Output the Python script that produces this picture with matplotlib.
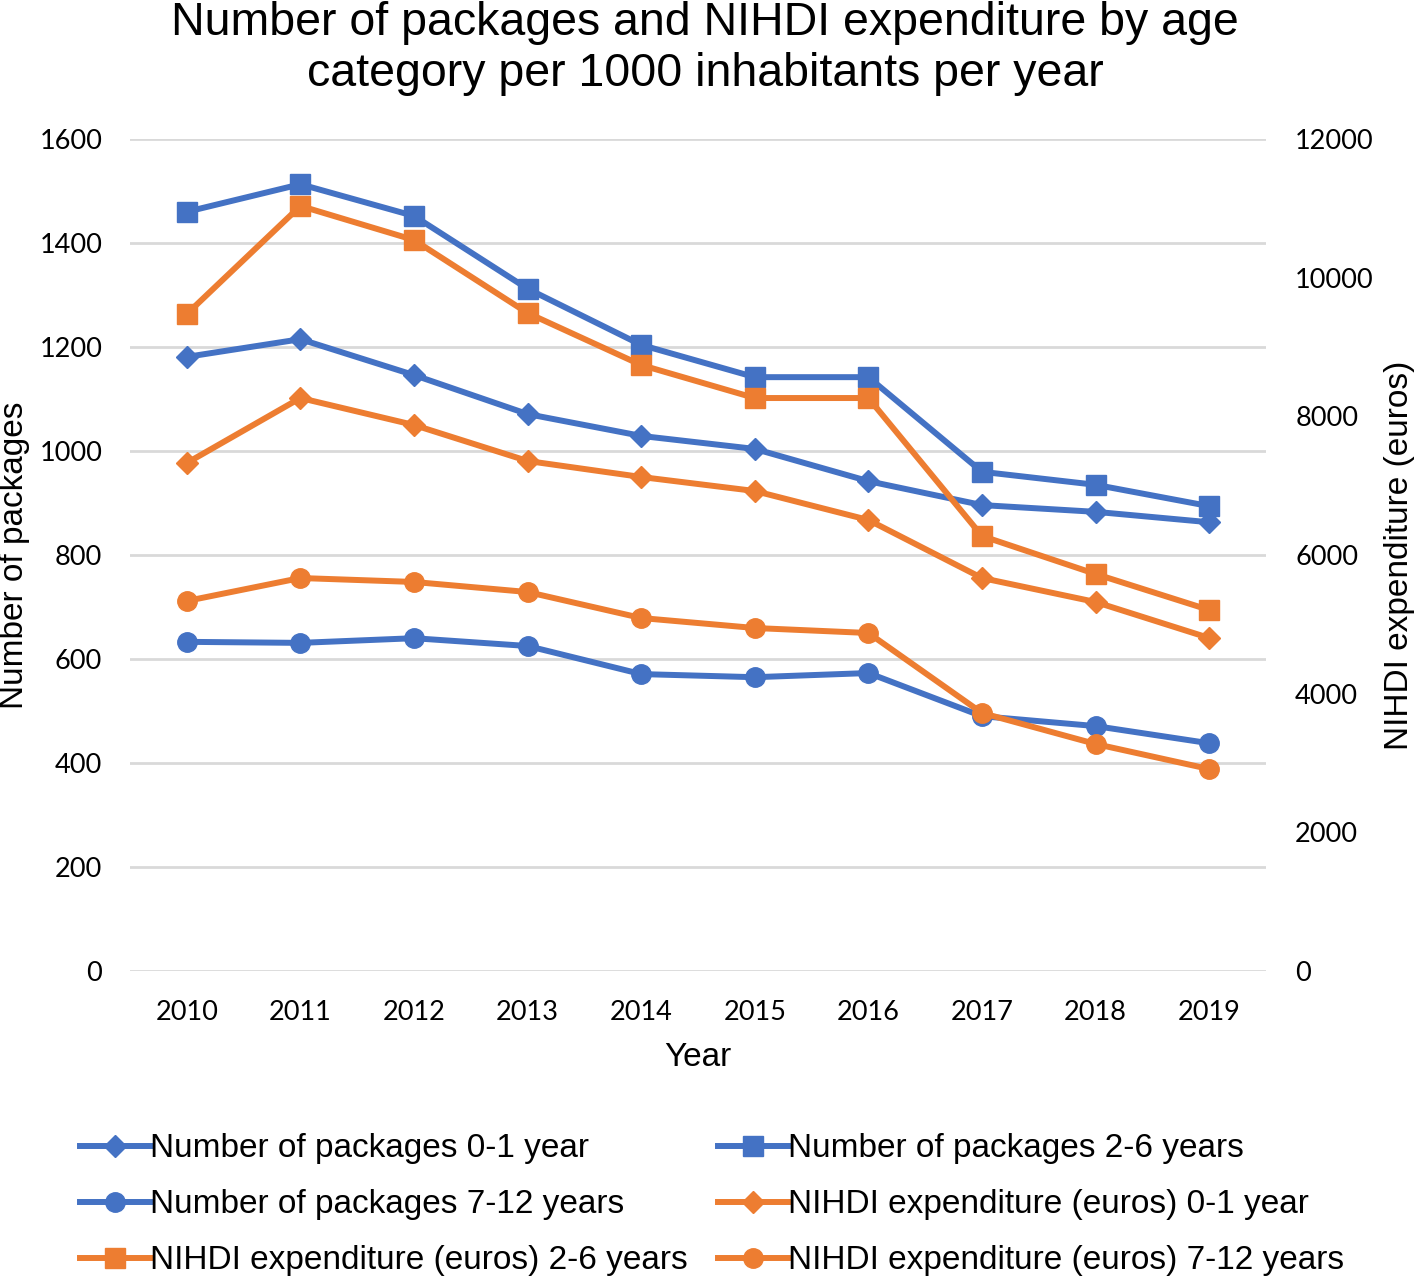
import matplotlib.pyplot as plt
from matplotlib.ticker import MultipleLocator

years = ["2010", "2011", "2012", "2013", "2014", "2015", "2016", "2017", "2018", "2019"]

pack_0_1 = [1181, 1215, 1146, 1071, 1029, 1004, 942, 896, 883, 863]
pack_2_6 = [1460, 1513, 1452, 1312, 1204, 1142, 1142, 960, 935, 894]
pack_7_12 = [633, 631, 640, 625, 571, 565, 573, 490, 471, 438]

exp_0_1 = [7327, 8264, 7875, 7356, 7125, 6923, 6505, 5668, 5322, 4803]
exp_2_6 = [9476, 11034, 10543, 9490, 8740, 8264, 8264, 6274, 5726, 5207]
exp_7_12 = [5337, 5668, 5611, 5466, 5091, 4947, 4875, 3721, 3274, 2913]

blue = "#4472C4"
orange = "#ED7D31"
arial = ["Liberation Sans", "DejaVu Sans"]
tickfont = ["Lato", "DejaVu Sans"]

fig = plt.figure(figsize=(14.24, 12.76), dpi=100)
ax = fig.add_axes([130 / 1424, 1 - 971 / 1276, (1266 - 130) / 1424, (971 - 139) / 1276])
ax2 = ax.twinx()

x = range(len(years))
lw = 4.3
l1, = ax.plot(x, pack_0_1, color=blue, lw=lw, marker="D", ms=11, label="Number of packages 0-1 year")
l2, = ax.plot(x, pack_2_6, color=blue, lw=lw, marker="s", ms=14, label="Number of packages 2-6 years")
l3, = ax.plot(x, pack_7_12, color=blue, lw=lw, marker="o", ms=14, label="Number of packages 7-12 years")
l4, = ax2.plot(x, exp_0_1, color=orange, lw=lw, marker="D", ms=11, label="NIHDI expenditure (euros) 0-1 year")
l5, = ax2.plot(x, exp_2_6, color=orange, lw=lw, marker="s", ms=14, label="NIHDI expenditure (euros) 2-6 years")
l6, = ax2.plot(x, exp_7_12, color=orange, lw=lw, marker="o", ms=14, label="NIHDI expenditure (euros) 7-12 years")

ax.set_xlim(-0.5, len(years) - 0.5)
ax.set_ylim(0, 1600)
ax2.set_ylim(0, 12000)
ax.yaxis.set_major_locator(MultipleLocator(200))
ax2.yaxis.set_major_locator(MultipleLocator(2000))
ax.set_xticks(list(x))
ax.set_xticklabels(years)

ax.grid(axis="y", color="#d9d9d9", lw=2)
ax.set_axisbelow(True)
for a in (ax, ax2):
    for s in a.spines.values():
        s.set_visible(False)
    a.tick_params(length=0, labelsize=19.5)
    for lab in a.get_xticklabels() + a.get_yticklabels():
        lab.set_family(tickfont)
ax.tick_params(axis="y", pad=20)
ax.tick_params(axis="x", pad=21)
ax2.tick_params(axis="y", pad=21)

ax.set_xlabel("Year", fontsize=24, family=arial, labelpad=12)
ax.set_ylabel("Number of packages", fontsize=24, family=arial)
ax2.set_ylabel("NIHDI expenditure (euros)", fontsize=24, family=arial)
ax.yaxis.set_label_coords(-0.088, 0.5)
ax2.yaxis.set_label_coords(1.104, 0.5)

fig.suptitle("Number of packages and NIHDI expenditure by age\ncategory per 1000 inhabitants per year",
             fontsize=33.5, family=arial, x=0.495, y=0.999, linespacing=1.2)

# legend fills row by row in the reference
handles = [l1, l3, l5, l2, l4, l6]
fig.legend(handles, [h.get_label() for h in handles], ncol=2, loc="upper left",
           bbox_to_anchor=(67 / 1424, 1 - 1120 / 1276), frameon=False,
           prop={"family": arial, "size": 24}, borderaxespad=0,
           handlelength=2.1, handletextpad=0.0, columnspacing=0.9, labelspacing=0.75)

fig.savefig("out.png", dpi=100)
